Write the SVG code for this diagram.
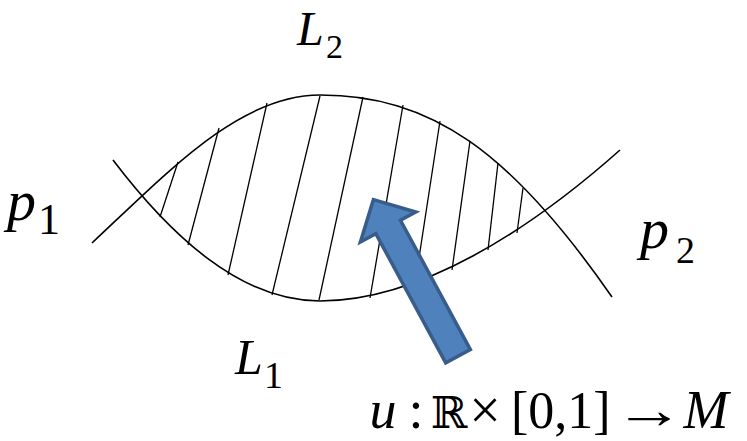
<svg xmlns="http://www.w3.org/2000/svg" width="747" height="441" viewBox="0 0 747 441">
<style>
.curve{fill:none;stroke:#000;stroke-width:1.6}
.hatch{fill:none;stroke:#000;stroke-width:1.3}
.arrow{fill:#4F81BD;stroke:#385D8A;stroke-width:3.5;stroke-linejoin:miter}
</style>
<rect width="747" height="441" fill="#fff"/>
<g id="curves">
<path id="L2curve" class="curve" d="M92,243 C170,170 240,95 320,95 C430,95 510,150 612,297"/>
<path id="L1curve" class="curve" d="M113,160 C170,235 240,301 320,301 C420,301 530,230 620,150"/>
</g>
<g id="hatching">
<line class="hatch" x1="178" y1="162" x2="160" y2="217"/>
<line class="hatch" x1="219" y1="128" x2="188" y2="245"/>
<line class="hatch" x1="267" y1="103" x2="228" y2="275"/>
<line class="hatch" x1="320" y1="96" x2="272" y2="295"/>
<line class="hatch" x1="363" y1="97" x2="319" y2="300"/>
<line class="hatch" x1="403" y1="105" x2="370" y2="298"/>
<line class="hatch" x1="440" y1="121" x2="415" y2="284"/>
<line class="hatch" x1="470" y1="141" x2="452" y2="270"/>
<line class="hatch" x1="498" y1="163" x2="488" y2="250"/>
<line class="hatch" x1="523" y1="188" x2="517" y2="233"/>
</g>
<g id="arrow-u">
<path class="arrow" transform="translate(459,358) rotate(-118.4)" d="M2,-14 L149,-14 L149,-31.5 L180,0 L149,31.5 L149,14 L2,14 Z"/>
</g>
<g id="label-L2">
<text x="297" y="45" font-size="48" font-family="Liberation Serif" font-style="italic">L</text>
<text x="326" y="58" font-size="34" font-family="Liberation Serif">2</text>
</g>
<g id="label-L1">
<text x="235" y="374" font-size="50" font-family="Liberation Serif" font-style="italic">L</text>
<text x="264" y="388" font-size="38" font-family="Liberation Serif">1</text>
</g>
<g id="label-p1">
<text x="7" y="220" font-size="58" font-family="Liberation Serif" font-style="italic">p</text>
<text x="38" y="234" font-size="44" font-family="Liberation Serif">1</text>
</g>
<g id="label-p2">
<text x="640" y="248" font-size="58" font-family="Liberation Serif" font-style="italic">p</text>
<text x="676" y="263" font-size="38" font-family="Liberation Serif">2</text>
</g>
<g id="label-u">
<text x="383" y="428" font-size="54" text-anchor="middle" font-family="Liberation Serif" font-style="italic">u</text>
<text x="416" y="428" font-size="54" text-anchor="middle" font-family="Liberation Serif">:</text>
<text x="449" y="428" font-size="44" text-anchor="middle" font-family="DejaVu Serif">ℝ</text>
<text x="485" y="429" font-size="56" text-anchor="middle" font-family="Liberation Serif">×</text>
<text x="511" y="428" font-size="52" font-family="Liberation Serif">[0,1]</text>
<text transform="translate(614,428) scale(1.3,1)" x="0" y="0" font-size="54" font-family="Liberation Serif">→</text>
<text x="706" y="428" font-size="54" text-anchor="middle" font-family="Liberation Serif" font-style="italic">M</text>
</g>
</svg>
